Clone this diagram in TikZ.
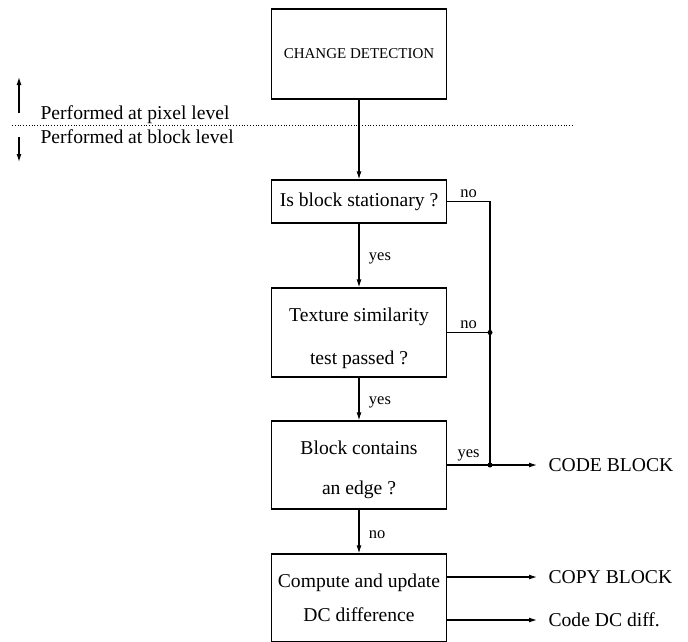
\documentclass[tikz,border=0pt]{standalone}
\usepackage{fontspec}
\setmainfont{Liberation Serif}
\usetikzlibrary{arrows.meta}
\begin{document}
\begin{tikzpicture}[x=1pt,y=-1pt,line width=1.2pt,
box/.style={draw,minimum width=175pt,align=center,font=\fontsize{19.6}{43}\selectfont},
arr/.style={-{Latex[length=8pt,width=5pt]}},
lbl/.style={font=\fontsize{16.5}{18}\selectfont},
outtxt/.style={anchor=west,inner xsep=11pt,font=\fontsize{19.6}{22}\selectfont},
lvl/.style={anchor=base west,inner sep=0pt,font=\fontsize{19.6}{22}\selectfont}]
\useasboundingbox(0,0)rectangle(688,642);
\node[box,minimum height=90pt,font=\fontsize{15}{18}\selectfont](change)at(359,54){CHANGE DETECTION};
\node[box,minimum height=43pt](stat)at(359,201.5){Is block stationary ?};
\node[box,minimum height=89pt](tex)at(359,332.5){\rule{0pt}{25pt}Texture similarity\\test passed ?};
\node[box,minimum height=88pt,font=\fontsize{19.6}{40}\selectfont](edge)at(359,465){\rule{0pt}{23.4pt}Block contains\\an edge ?};
\node[box,minimum height=88pt,font=\fontsize{19.6}{34}\selectfont](comp)at(359,598){Compute and update\\DC difference};
\node[lvl](pix)at(40,119){Performed at pixel level};
\node[lvl](blk)at(40,143){Performed at block level};
\draw[dotted,line width=.8pt](12,125)--(573,125);
\draw[arr](19,113)--(19,77);
\draw[arr](19,137)--(19,162);
\draw[arr](change)--(stat);
\draw[arr](stat)--node[lbl,right=6pt,pos=.54]{yes}(tex);
\draw[arr](tex)--node[lbl,right=6pt,pos=.57]{yes}(edge);
\draw[arr](edge)--node[lbl,right=6pt,pos=.58]{no}(comp);
\coordinate(rail)at(490,0);
\node[outtxt](code)at(537,465){CODE BLOCK};
\node[outtxt](copy)at(537,577){COPY BLOCK};
\node[outtxt](dcdiff)at(537,620){Code DC diff.};
\draw(stat.east)--node[lbl,above]{no}(stat.east-|rail)--(edge.east-|rail);
\draw(tex.east)--node[lbl,above]{no}(tex.east-|rail)coordinate(j1);
\draw[arr](edge.east)--node[lbl,above]{yes}(edge.east-|rail)coordinate(j2)--(code.west);
\fill(j1)circle(2.5pt)(j2)circle(2.5pt);
\draw[arr](comp.east|-copy.west)--(copy.west);
\draw[arr](comp.east|-dcdiff.west)--(dcdiff.west);
\end{tikzpicture}
\end{document}
